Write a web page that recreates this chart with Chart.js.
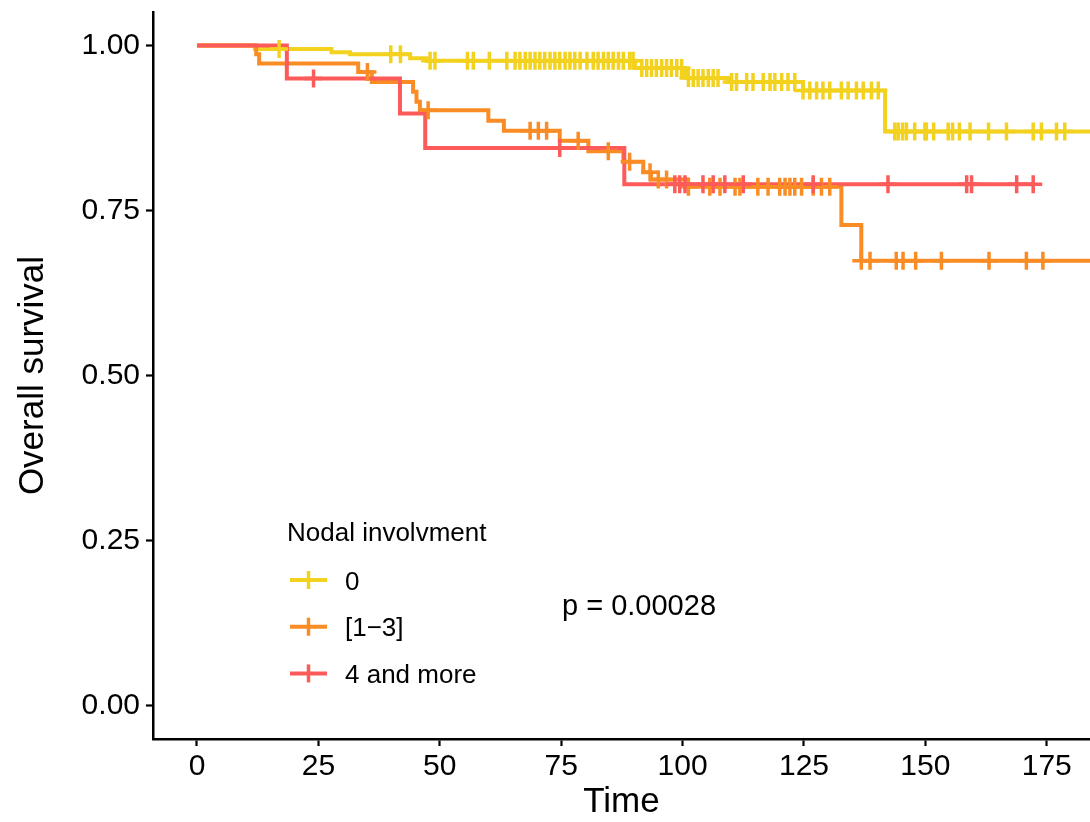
<!DOCTYPE html>
<html>
<head>
<meta charset="utf-8">
<script src="https://cdn.jsdelivr.net/npm/chart.js@4.4.1/dist/chart.umd.min.js"></script>
<style>
  html, body { margin: 0; padding: 0; background: #fff; overflow: hidden; }
</style>
</head>
<body>
<canvas id="km" width="1090" height="822"></canvas>
<script>
var groups = ['0', '[1\u22123]', '4 and more'];
var colors = ['#F3D21F', '#F98C24', '#FD5A5A'];
var legendTitle = 'Nodal involvment';
var pText = 'p = 0.00028';

// step times and survival after each step
var times0 = [0, 11.9, 27.7, 31.5, 43.9, 47.3, 90.2, 100.5, 109.4, 124.8, 141.7];
var surv0  = [1, 0.995, 0.990, 0.987, 0.981, 0.977, 0.966, 0.951, 0.945, 0.932, 0.870];
var times1 = [0, 12.2, 12.8, 33.2, 36.0, 44.5, 45.2, 45.9, 60.0, 63.2, 74.7, 80.6, 87.8, 91.9, 93.5, 101.1, 132.7, 136.8];
var surv1  = [1, 0.987, 0.973, 0.960, 0.945, 0.930, 0.915, 0.902, 0.886, 0.871, 0.856, 0.840, 0.824, 0.808, 0.797, 0.786, 0.728, 0.674];
var times2 = [0, 18.5, 41.8, 47.0, 88.0];
var surv2  = [1, 0.950, 0.897, 0.845, 0.790];
var lastTime = [188, 186, 172.2];

// censored times
var censor0 = [16.9, 39.9, 41.9, 48.0, 49.0, 55.7, 56.9, 60.2, 63.8, 65.5, 66.5, 67.6, 68.6, 69.6, 70.6,
  71.6, 72.7, 73.7, 74.7, 75.8, 76.8, 77.8, 78.9, 80.3, 81.6, 82.6, 83.7, 84.7, 85.7, 86.8, 87.8, 89.1,
  89.8, 91.6, 92.6, 93.6, 94.6, 95.7, 96.7, 97.7, 98.8, 99.8, 101.2, 102.2, 103.2, 104.2, 105.3, 106.3,
  107.3, 110.1, 111.1, 113.2, 114.5, 116.6, 118.0, 119.0, 120.4, 121.7, 123.1, 124.8, 126.2, 127.6,
  128.9, 130.3, 132.7, 134.1, 135.8, 137.2, 138.9, 140.3, 143.7, 144.4, 145.3, 146.1, 147.8, 149.9,
  150.2, 151.7, 154.7, 155.6, 157.0, 159.2, 163.0, 166.7, 172.2, 173.9, 177.0, 178.7, 188];
var censor1 = [35.1, 47.6, 68.6, 70.3, 72.0, 78.5, 84.7, 89.1, 93.3, 95.0, 96.7, 101.2, 105.6, 107.7,
  110.8, 111.8, 115.5, 117.6, 120.0, 121.1, 122.1, 123.1, 124.5, 126.9, 128.6, 130.3, 136.8, 138.6,
  144.0, 145.4, 148.0, 153.3, 163.1, 170.8, 174.2, 186];
var censor2 = [24.0, 74.7, 98.4, 99.4, 100.5, 104.2, 106.3, 108.7, 112.5, 126.9, 142.3, 158.5, 159.5,
  168.8, 172.2];

var xTicks = [0, 25, 50, 75, 100, 125, 150, 175];
var yTicks = [0, 0.25, 0.5, 0.75, 1];

var allTimes = [times0, times1, times2];
var allSurv = [surv0, surv1, surv2];
var allCensor = [censor0, censor1, censor2];

function survAt(times, surv, t) {
  var v = surv[0];
  for (var i = 0; i < times.length; i++) {
    if (times[i] <= t) v = surv[i];
  }
  return v;
}

var censorSets = [];
var lineSets = [];
for (var k = 2; k >= 0; k--) {
  var pts = allTimes[k].map(function (t, i) { return { x: t, y: allSurv[k][i] }; });
  pts.push({ x: lastTime[k], y: allSurv[k][allSurv[k].length - 1] });
  lineSets.push({
    type: 'line',
    data: pts,
    borderColor: colors[k],
    borderWidth: 4,
    stepped: true,
    pointRadius: 0,
    fill: false
  });
  censorSets.push({
    type: 'scatter',
    data: allCensor[k].map(function (t) { return { x: t, y: survAt(allTimes[k], allSurv[k], t) }; }),
    showLine: false,
    pointStyle: 'cross',
    pointRadius: 9,
    borderWidth: 3.5,
    pointBorderWidth: 3.5,
    borderColor: colors[k],
    backgroundColor: colors[k]
  });
}

var font = '"Liberation Sans", Arial, Helvetica, sans-serif';

var legendPlugin = {
  id: 'kmLegend',
  afterDraw: function (chart) {
    var ctx = chart.ctx;
    ctx.save();
    ctx.fillStyle = '#000';
    ctx.textBaseline = 'alphabetic';
    ctx.textAlign = 'left';
    ctx.font = '26px ' + font;
    ctx.fillText(legendTitle, 287, 541);
    groups.forEach(function (g, i) {
      var cy = 580 + i * 46.7;
      ctx.strokeStyle = colors[i];
      ctx.lineWidth = 4;
      ctx.beginPath();
      ctx.moveTo(290, cy);
      ctx.lineTo(327, cy);
      ctx.stroke();
      ctx.lineWidth = 3.5;
      ctx.beginPath();
      ctx.moveTo(308.5, cy - 9);
      ctx.lineTo(308.5, cy + 9);
      ctx.stroke();
      ctx.fillText(g, 345, cy + 9.5);
    });
    ctx.font = '29px ' + font;
    ctx.fillText(pText, 562, 615);
    ctx.restore();
  }
};

new Chart(document.getElementById('km'), {
  type: 'line',
  data: { datasets: censorSets.concat(lineSets) },
  plugins: [legendPlugin],
  options: {
    responsive: false,
    animation: false,
    devicePixelRatio: 1,
    events: [],
    layout: { autoPadding: false, padding: { top: 12, left: 0, right: 0, bottom: 0 } },
    plugins: { legend: { display: false }, tooltip: { enabled: false } },
    scales: {
      x: {
        type: 'linear',
        min: -9.06,
        max: 183.9,
        afterBuildTicks: function (s) { s.ticks = xTicks.map(function (v) { return { value: v }; }); },
        afterFit: function (s) { s.height = 83; s.paddingLeft = 0; s.paddingRight = 0; },
        ticks: { color: '#000', font: { family: font, size: 30 }, padding: 3, maxRotation: 0 },
        grid: { display: true, drawOnChartArea: false, drawTicks: true, tickLength: 7, tickWidth: 2.2, tickColor: '#000' },
        border: { display: true, color: '#000', width: 2.5 },
        title: { display: true, text: 'Time', color: '#000', font: { family: font, size: 35, lineHeight: 1 }, padding: { top: 0, bottom: 2 } }
      },
      y: {
        type: 'linear',
        min: -0.0506,
        max: 1.0509,
        afterBuildTicks: function (s) { s.ticks = yTicks.map(function (v) { return { value: v }; }); },
        afterFit: function (s) { s.width = 153; s.paddingTop = 0; s.paddingBottom = 0; },
        ticks: { color: '#000', font: { family: font, size: 30 }, padding: 6, callback: function (v) { return v.toFixed(2); } },
        grid: { display: true, drawOnChartArea: false, drawTicks: true, tickLength: 7, tickWidth: 2.2, tickColor: '#000' },
        border: { display: true, color: '#000', width: 2.5 },
        title: { display: true, text: 'Overall survival', color: '#000', font: { family: font, size: 35, lineHeight: 1 }, padding: { top: 16, bottom: 0 } }
      }
    }
  }
});
</script>
</body>
</html>
